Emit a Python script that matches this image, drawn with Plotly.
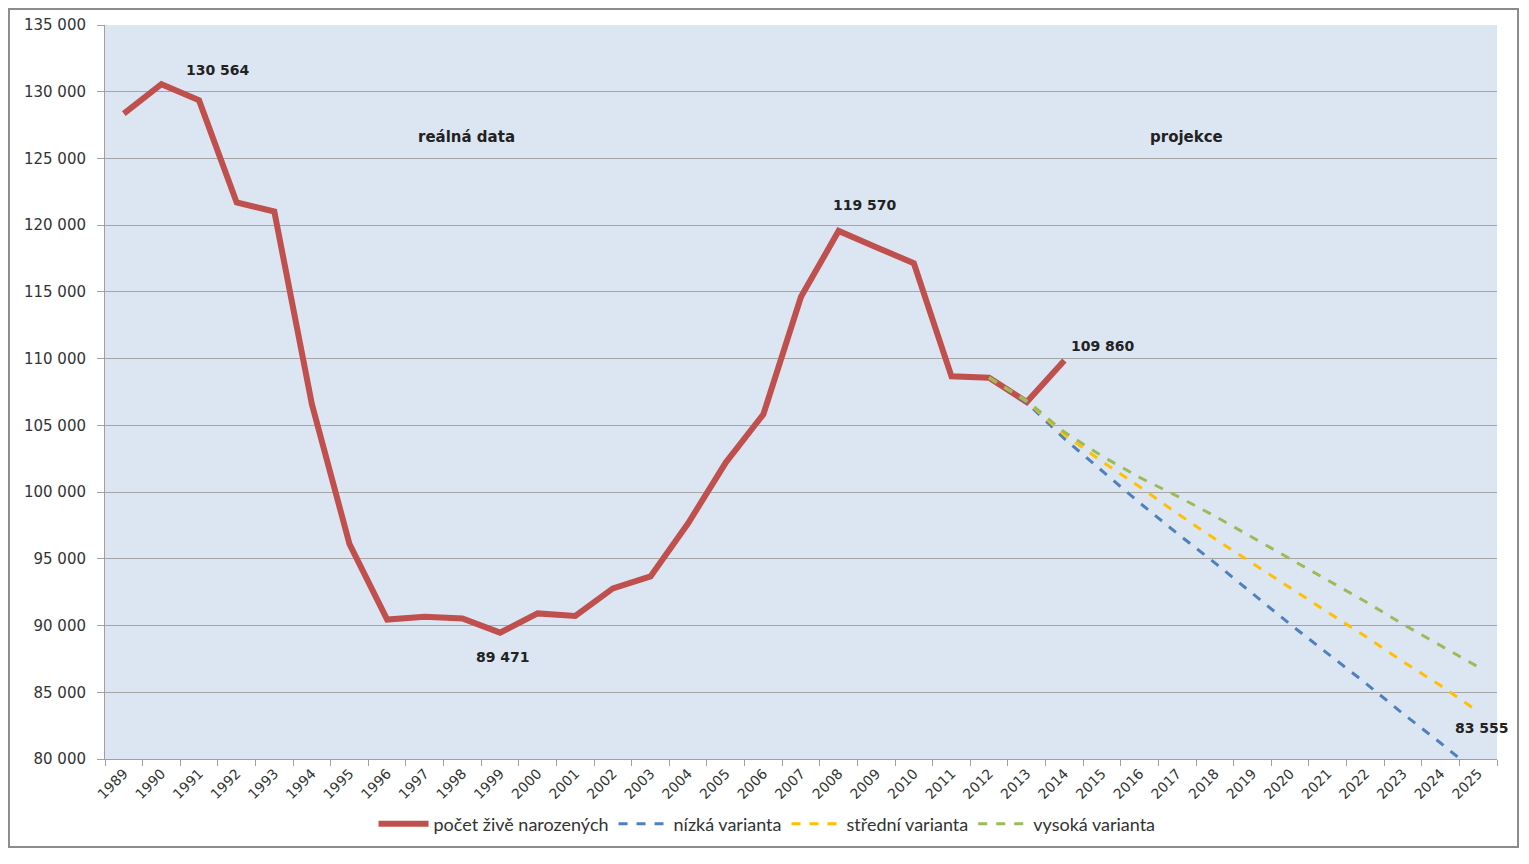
import plotly.graph_objects as go

years = [str(y) for y in range(1989, 2026)]
real_years = [str(y) for y in range(1989, 2015)]
births = [128356, 130564, 129354, 121705, 121025, 106579, 96097, 90446, 90657, 90535,
          89471, 90910, 90715, 92786, 93685, 97664, 102211, 105831, 114632, 119570,
          118348, 117153, 108673, 108576, 106751, 109860]

proj_years = [str(y) for y in range(2012, 2026)]
low = [108576, 106700, 104000, 101600, 99200, 96900, 94700, 92400, 90100, 87900,
       85700, 83400, 81200, 78900]
mid = [108576, 106800, 104300, 102300, 100400, 98400, 96500, 94650, 92800, 91000,
       89200, 87300, 85500, 83555]
high = [108576, 106850, 104500, 102700, 101100, 99700, 98200, 96600, 95000, 93400,
        91800, 90100, 88500, 86900]

y_ticks = list(range(80000, 135001, 5000))
y_tick_text = [f"{v:,}".replace(",", " ") for v in y_ticks]

labels = [("1990", 130564, "130 564", 57, 14),
          ("2008", 119570, "119 570", 26, 26),
          ("1999", 89471, "89 471", 3, -24),
          ("2014", 109860, "109 860", 39, 15),
          ("2025", 83555, "83 555", 4, -16)]

fig = go.Figure()
fig.add_trace(go.Scatter(x=real_years, y=births, mode="lines", name="počet živě narozených",
                         line=dict(color="#C0504D", width=6)))
fig.add_trace(go.Scatter(x=proj_years, y=low, mode="lines", name="nízká varianta",
                         line=dict(color="#4F81BD", width=3, dash="dash")))
fig.add_trace(go.Scatter(x=proj_years, y=mid, mode="lines", name="střední varianta",
                         line=dict(color="#FFC000", width=3, dash="dash")))
fig.add_trace(go.Scatter(x=proj_years, y=high, mode="lines", name="vysoká varianta",
                         line=dict(color="#9BBB59", width=3, dash="dash")))

for x, y, t, xs, ys in labels:
    fig.add_annotation(x=years.index(x), y=y, text=f"<b>{t}</b>", showarrow=False,
                       xshift=xs, yshift=ys, xanchor="center", yanchor="middle",
                       font=dict(family="DejaVu Sans", size=14, color="#222222"))

fig.add_annotation(x=0.26, y=0.847, xref="paper", yref="paper", text="<b>reálná data</b>",
                   showarrow=False, xanchor="center", yanchor="middle",
                   font=dict(family="DejaVu Sans", size=15, color="#222222"))
fig.add_annotation(x=0.7766, y=0.847, xref="paper", yref="paper", text="<b>projekce</b>",
                   showarrow=False, xanchor="center", yanchor="middle",
                   font=dict(family="DejaVu Sans", size=15, color="#222222"))

fig.add_shape(type="rect", xref="paper", yref="paper", x0=-0.069, x1=1.0151, y0=-0.1199, y1=1.0218,
              line=dict(color="#8C8C8C", width=2), layer="below")

fig.update_layout(
    width=1529, height=864,
    margin=dict(l=97, r=40, t=17, b=113),
    paper_bgcolor="white", plot_bgcolor="#DCE6F2",
    font=dict(family="DejaVu Sans", size=13, color="#222222"),
    showlegend=True,
    legend=dict(orientation="h", x=0.4756, xanchor="center", y=-0.0886, yanchor="middle",
                font=dict(family="Lato", size=18, color="#333333"), bgcolor="rgba(0,0,0,0)",
                itemwidth=50),
    xaxis=dict(type="category", categoryorder="array", categoryarray=years,
               range=[-0.5, len(years) - 0.5], tickangle=-45, tickson="boundaries",
               ticks="outside", ticklen=6, tickcolor="#A0A0A0", showgrid=False,
               showline=True, linecolor="#A0A0A0", linewidth=1, automargin=False,
               tickfont=dict(family="DejaVu Sans", size=14, color="#333333")),
    yaxis=dict(range=[80000, 135000], tickvals=y_ticks, ticktext=y_tick_text,
               showgrid=True, gridcolor="#A6A6A6", gridwidth=1, zeroline=False,
               showline=True, linecolor="#A0A0A0", linewidth=1, ticks="outside",
               ticklen=7, tickcolor="#A0A0A0", ticklabelstandoff=8, automargin=False,
               tickfont=dict(family="DejaVu Sans", size=15, color="#333333")),
)

fig.write_html("out.html")
